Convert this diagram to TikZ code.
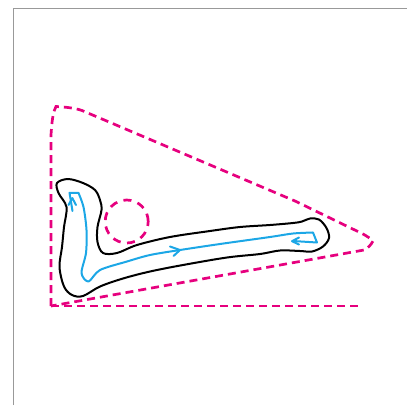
\documentclass[tikz,border=0pt]{standalone}
\usepackage{tikz}
\tikzset{
  frameline/.style={line width=1.6pt,draw=black!40},
  reach/.style={line width=2.7pt,draw=reachpink,dash pattern=on 8pt off 5pt},
  outline/.style={line width=2pt,draw=black,line join=round},
  motion/.style={line width=2pt,draw=motionblue,line join=round,line cap=round},
}
\definecolor{reachpink}{HTML}{E6007E}
\definecolor{motionblue}{HTML}{1CA7E6}
\begin{document}
\begin{tikzpicture}[x=1pt,y=-1pt]
\useasboundingbox (0,0) rectangle (407,405);
\coordinate (corner) at (13.5,8.5);
\coordinate (origin) at (51,306);
\draw[frameline] (13.5,405)--(corner)--(407,8.5);
% reachable area
\draw[reach] (origin)--(51,135)..controls (52,120) and (53,112)..(56,106.5)
  ..controls (65,107) and (75,108)..(82,110.5)--(295,201)--(362,233.5)
  ..controls (367,236) and (371,239)..(373,241)
  ..controls (371,245) and (368,248)..(364,250)--(origin);
\draw[reach] (origin)--(360,306);
\node[circle,reach,minimum size=43pt,inner sep=0pt,dash pattern=on 8pt off 6.5pt] (obstacle) at (126.7,221.5){};
% arm outline
\draw[outline] plot[smooth cycle,tension=0.55] coordinates{
  (57,183) (68,179) (83,183) (95,190) (100,200) (101.5,210) (97.5,227) (97.5,242)
  (103,253) (117,253) (137,245) (170,237) (210,231) (240,227) (270,225) (293,223)
  (302,221.5) (310,218.5) (319,219.5) (326.5,228) (329,238) (323,246.5) (312,251.5)
  (300,251) (280,250.5) (260,254) (227,257.5) (183,265) (150,271.5) (123,278.5)
  (100,286.5) (83,296) (72,295) (64,286.5) (59.5,267) (62,247) (64,227) (66.5,207) (58.5,193)};
% tool path
\draw[motion] plot[smooth,tension=0.5] coordinates{
  (78.5,193) (83.5,207) (86.5,230) (86,253) (81.5,273) (88.5,281.5) (100,270)
  (127,261.5) (150,255) (180,250) (220,244) (270,237) (293,233.5) (313,232.5)};
\draw[motion] (72.5,211)--(69.5,192.8)--(78.5,192.8);
\draw[motion] (313,232.5)--(317,242.5)--(293,241);
% arrow heads
\draw[motion] (68.5,205)--(72.3,198)--(76,205);
\draw[motion] (170,246.5)--(180,250)--(173.5,256);
\draw[motion] (299,237.5)--(292,241.2)--(299,244.5);
\end{tikzpicture}
\end{document}
